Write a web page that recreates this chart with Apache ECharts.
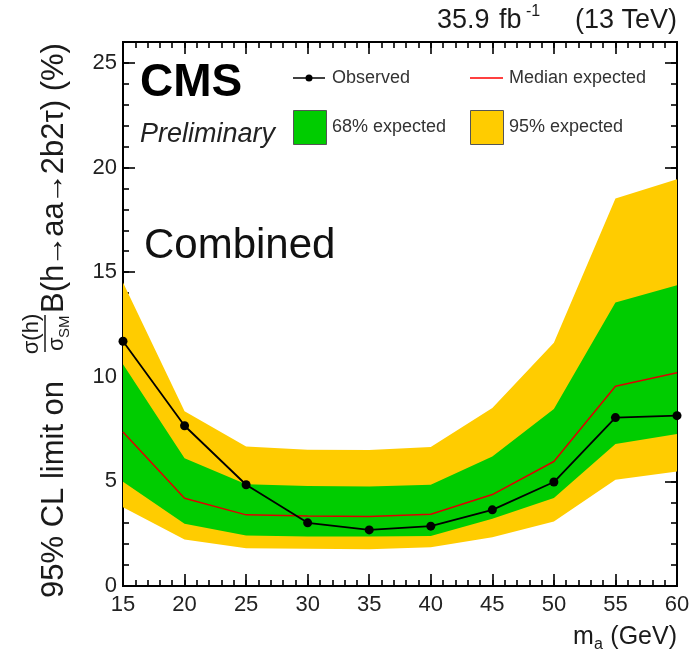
<!DOCTYPE html>
<html>
<head>
<meta charset="utf-8">
<script src="https://cdn.jsdelivr.net/npm/echarts@6/dist/echarts.min.js"></script>
<style>
  html, body { margin: 0; padding: 0; background: #fff; }
  #chart { width: 693px; height: 661px; }
</style>
</head>
<body>
<div id="chart"></div>
<script>
// Pseudoscalar mass points (GeV)
const mass = [15, 20, 25, 30, 35, 40, 45, 50, 55, 60];
// Observed 95% CL upper limit (%)
const observed = [11.7, 7.66, 4.84, 3.02, 2.68, 2.86, 3.64, 4.97, 8.05, 8.14];
// Median expected limit (%)
const expected = [7.36, 4.19, 3.40, 3.35, 3.32, 3.43, 4.37, 5.95, 9.55, 10.19];
// 68% expected band edges
const exp68Low = [4.98, 2.97, 2.41, 2.36, 2.36, 2.39, 3.22, 4.20, 6.79, 7.26];
const exp68High = [10.6, 6.10, 4.86, 4.78, 4.76, 4.84, 6.19, 8.46, 13.55, 14.37];
// 95% expected band edges
const exp95Low = [3.76, 2.22, 1.80, 1.78, 1.76, 1.85, 2.33, 3.08, 5.08, 5.47];
const exp95High = [14.5, 8.35, 6.67, 6.51, 6.50, 6.64, 8.51, 11.62, 18.52, 19.44];

const xTicks = [15, 20, 25, 30, 35, 40, 45, 50, 55, 60];
const yTicks = [0, 5, 10, 15, 20, 25];

const FONT = '"Liberation Sans", Arial, Helvetica, sans-serif';
const GREEN = '#00cc00';
const YELLOW = '#ffcc00';
const RED = '#dd0000';

const pairs = (ys) => mass.map((m, i) => [m, ys[i]]);

// Band series: one filled polygon through the upper edge and back along the lower edge
function bandSeries(name, lo, hi, color, z) {
  return {
    name, type: 'custom', z, silent: true,
    data: mass.map((m, i) => [m, lo[i], hi[i]]),
    encode: { x: 0, y: [1, 2] },
    renderItem: (params, api) => {
      if (params.dataIndex !== 0) return null;
      const upper = mass.map((m, i) => api.coord([m, hi[i]]));
      const lower = mass.map((m, i) => api.coord([m, lo[i]])).reverse();
      return {
        type: 'polygon',
        shape: { points: upper.concat(lower) },
        style: { fill: color, stroke: null }
      };
    }
  };
}

function xAxisDef(position, interval, tickLen, withLabels) {
  return {
    type: 'value', position, min: xTicks[0], max: xTicks[xTicks.length - 1], interval,
    axisLine: { show: true, onZero: false, lineStyle: { color: '#000', width: 2 } },
    axisTick: { show: true, inside: true, length: tickLen, lineStyle: { color: '#000', width: 1.6 } },
    axisLabel: withLabels ? {
      show: true, margin: 8, color: '#222', fontSize: 22, fontFamily: FONT
    } : { show: false },
    splitLine: { show: false }
  };
}
function yAxisDef(position, interval, tickLen, withLabels) {
  return {
    type: 'value', position, min: 0, max: 26, interval,
    axisLine: { show: true, onZero: false, lineStyle: { color: '#000', width: 2 } },
    axisTick: { show: true, inside: true, length: tickLen, lineStyle: { color: '#000', width: 1.6 } },
    axisLabel: withLabels ? {
      show: true, margin: 6, color: '#222', fontSize: 22, fontFamily: FONT,
      showMaxLabel: false,
      formatter: (v) => (yTicks.indexOf(v) >= 0 ? String(v) : '')
    } : { show: false },
    splitLine: { show: false }
  };
}

const txt = (text, size, opts) => Object.assign({
  text, fill: '#1a1a1a', fontSize: size, fontFamily: FONT,
  textAlign: 'left', textVerticalAlign: 'middle', align: 'left', verticalAlign: 'middle'
}, opts || {});

// Lay out a run of text pieces left to right, pulling arrows in tight
const measureCtx = document.createElement('canvas').getContext('2d');
function textRun(pieces, size, x0, y, kern) {
  measureCtx.font = size + 'px ' + FONT;
  let x = x0;
  return pieces.map((p) => {
    const isArrow = p === '→';
    if (isArrow) x -= kern;
    const el = { type: 'text', x, y, style: txt(p, size) };
    x += measureCtx.measureText(p).width;
    if (isArrow) x -= kern;
    return el;
  });
}

const yTitleTail = ['B(h', '→', 'aa', '→', '2b2τ) (%)'];

const option = {
  animation: false,
  backgroundColor: '#fff',
  grid: { left: 123, right: 16, top: 42, bottom: 75, containLabel: false },
  xAxis: [
    xAxisDef('bottom', 5, 12, true),
    xAxisDef('bottom', 1, 6, false),
    xAxisDef('top', 5, 12, false),
    xAxisDef('top', 1, 6, false)
  ],
  yAxis: [
    yAxisDef('left', 5, 12, true),
    yAxisDef('left', 1, 6, false),
    yAxisDef('right', 5, 12, false),
    yAxisDef('right', 1, 6, false)
  ],
  series: [
    bandSeries('95% expected', exp95Low, exp95High, YELLOW, 1),
    bandSeries('68% expected', exp68Low, exp68High, GREEN, 2),
    {
      name: 'Median expected', type: 'line', data: pairs(expected),
      symbol: 'none', lineStyle: { color: RED, width: 1.5 }, z: 3
    },
    {
      name: 'Observed', type: 'line', data: pairs(observed),
      symbol: 'circle', symbolSize: 9, clip: false,
      itemStyle: { color: '#000' },
      lineStyle: { color: '#000', width: 1.8 }, z: 4
    }
  ],
  graphic: [
    // CMS label block
    { type: 'text', x: 140, y: 83, z: 10, style: txt('CMS', 46, { fontWeight: 'bold', fill: '#000' }) },
    { type: 'text', x: 140, y: 134, z: 10, style: txt('Preliminary', 27, { fontStyle: 'italic', fill: '#222' }) },
    { type: 'text', x: 144, y: 246, z: 10, style: txt('Combined', 42, { fill: '#111' }) },

    // Luminosity / energy label
    { type: 'text', x: 437, y: 21, z: 10, style: txt('35.9', 27) },
    { type: 'text', x: 499, y: 21, z: 10, style: txt('fb', 27) },
    { type: 'text', x: 526, y: 12, z: 10, style: txt('-1', 16) },
    { type: 'text', x: 677, y: 21, z: 10, style: txt('(13 TeV)', 27, { textAlign: 'right', align: 'right' }) },

    // Legend
    { type: 'line', z: 10, shape: { x1: 293, y1: 78, x2: 325, y2: 78 }, style: { stroke: '#000', lineWidth: 1.5 } },
    { type: 'circle', z: 10, shape: { cx: 309, cy: 78, r: 3.5 }, style: { fill: '#000' } },
    { type: 'text', x: 332, y: 78, z: 10, style: txt('Observed', 18, { fill: '#333' }) },
    { type: 'line', z: 10, shape: { x1: 470, y1: 78, x2: 503, y2: 78 }, style: { stroke: '#ff0000', lineWidth: 1.5 } },
    { type: 'text', x: 509, y: 78, z: 10, style: txt('Median expected', 18, { fill: '#333' }) },
    { type: 'rect', z: 10, shape: { x: 293.5, y: 110.5, width: 33, height: 34 }, style: { fill: GREEN, stroke: '#555', lineWidth: 1 } },
    { type: 'text', x: 332, y: 127, z: 10, style: txt('68% expected', 18, { fill: '#333' }) },
    { type: 'rect', z: 10, shape: { x: 470.5, y: 110.5, width: 33, height: 34 }, style: { fill: YELLOW, stroke: '#555', lineWidth: 1 } },
    { type: 'text', x: 509, y: 127, z: 10, style: txt('95% expected', 18, { fill: '#333' }) },

    // x-axis title: m_a (GeV)
    { type: 'text', x: 677, y: 637, z: 10, style: txt('(GeV)', 25, { textAlign: 'right', align: 'right' }) },
    { type: 'text', x: 594, y: 645, z: 10, style: txt('a', 16) },
    { type: 'text', x: 573, y: 637, z: 10, style: txt('m', 25) },

    // y-axis title, rotated to read bottom-to-top
    {
      type: 'group', x: 64, y: 598, rotation: Math.PI / 2, z: 10,
      children: [
        { type: 'text', x: 0, y: -10, style: txt('95% CL limit on', 31) },
        { type: 'text', x: 264, y: -32, style: txt('σ(h)', 22, { textAlign: 'center', align: 'center' }) },
        { type: 'line', shape: { x1: 246, y1: -19, x2: 283, y2: -19 }, style: { stroke: '#1a1a1a', lineWidth: 1.5 } },
        { type: 'text', x: 247, y: -7, style: txt('σ', 22) },
        { type: 'text', x: 260, y: 1, style: txt('SM', 15) }
      ].concat(textRun(yTitleTail, 31, 285, -10, 1.5))
    }
  ]
};

const chart = echarts.init(document.getElementById('chart'), null, { renderer: 'canvas' });
chart.setOption(option);
</script>
</body>
</html>
